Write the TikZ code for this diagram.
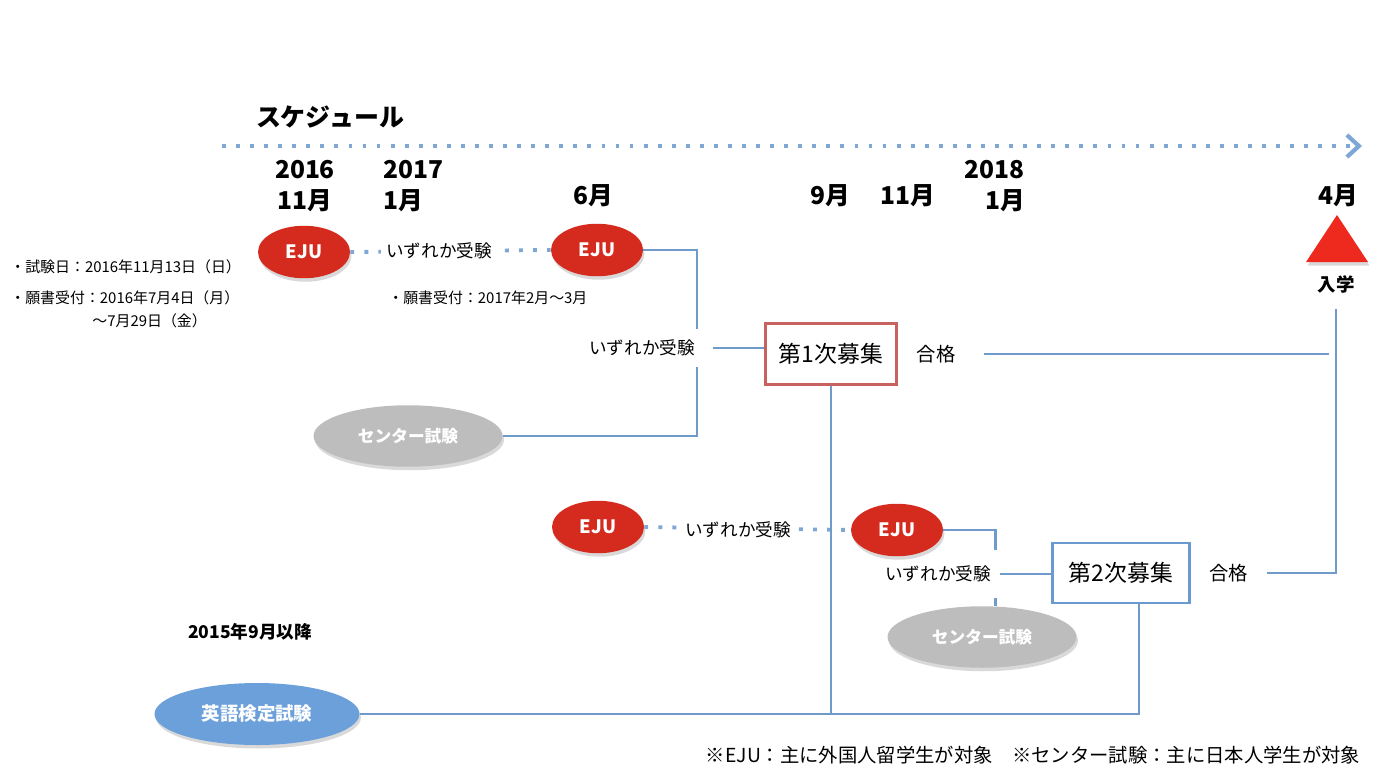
\documentclass[tikz,border=0pt]{standalone}
\usepackage{fontspec}
\setmainfont{Noto Sans CJK JP}
\usetikzlibrary{arrows.meta,positioning,shapes.geometric,shadows}
\definecolor{link}{HTML}{6F9BCB}
\definecolor{dots}{HTML}{7FA7D6}
\definecolor{ejured}{HTML}{D52B1E}
\definecolor{exgray}{HTML}{BDBDBD}
\definecolor{eikenblue}{HTML}{6CA0DA}
\definecolor{boxred}{HTML}{C8625F}
\definecolor{boxblue}{HTML}{6A9BD0}
\definecolor{trired}{HTML}{EE2A1E}

\begin{document}
\begin{tikzpicture}[x=0.02cm,y=-0.02cm,
  shade3d/.style={drop shadow={opacity=.3,shadow xshift=.3mm,shadow yshift=-.7mm}},
  eju/.style={ellipse,fill=ejured,text=white,font=\bfseries\fontsize{10.5}{12}\selectfont,minimum width=1.84cm,minimum height=1.05cm,inner sep=0pt,shade3d},
  sexam/.style={ellipse,fill=exgray,text=white,font=\bfseries\fontsize{9.5}{11}\selectfont,minimum width=3.78cm,minimum height=1.23cm,inner sep=0pt,shade3d},
  datelbl/.style={font=\bfseries\fontsize{14}{17.5}\selectfont,inner sep=0pt},
  note/.style={font=\fontsize{8.5}{10}\selectfont,inner sep=0pt},
  either/.style={font=\fontsize{10}{12}\selectfont,fill=white},
  link/.style={draw=link,line width=1.1pt},
  dotline/.style={draw=dots,line width=2.2pt,dash pattern=on 2.2pt off 5.8pt}]
  \useasboundingbox (0,0) rectangle (1385,771);

  % timeline
  \node[font=\bfseries\fontsize{14.2}{16}\selectfont] (title) at (330,117) {スケジュール};
  \coordinate (tstart) at (222,146);
  \coordinate (tend) at (1362,146);
  \draw[dotline,-{Straight Barb[length=2.4mm,width=4.4mm,line width=2.4pt]}] (tstart) -- (tend);

  \node[datelbl,align=center] (d1611) at (305,186) {2016\\11月};
  \node[datelbl,align=left,anchor=west] (d1701) at (383,186) {2017\\1月};
  \node[datelbl] (d06) at (593,196) {6月};
  \node[datelbl] (d09) at (830,196) {9月};
  \node[datelbl] (d11) at (908,196) {11月};
  \node[datelbl,align=right,anchor=east] (d1801) at (1025,186) {2018\\1月};
  \node[datelbl] (d04) at (1338,196) {4月};

  % first round
  \node[eju] (ejuA) at (304,252) {EJU};
  \node[eju] (ejuB) at (597,250) {EJU};
  \draw[dotline] (ejuA.east) -- (ejuB.west);
  \node[either,inner sep=3pt] (eitherA) at (439,251) {いずれか受験};
  \node[note,anchor=west] (examA) at (10,267) {・試験日：2016年11月13日（日）};
  \node[note,anchor=west] (applyA) at (10,298) {・願書受付：2016年7月4日（月）};
  \node[note,anchor=west] (applyA2) at (92,321) {～7月29日（金）};
  \node[note,anchor=west] (applyB) at (388,298) {・願書受付：2017年2月～3月};
  \node[sexam] (centerA) at (408,436) {センター試験};
  \draw[link] (ejuB.east) -- ++(54,0) coordinate (kinkA) |- (centerA.east);
  \node[either,inner xsep=10pt,inner ysep=6pt] (eitherB) at (642,348) {いずれか受験};
  \node[draw=boxred,line width=1.7pt,fill=white,font=\fontsize{13}{15}\selectfont,minimum width=2.62cm,minimum height=1.22cm] (boxA) at (831,354) {第1次募集};
  \draw[link] (eitherB.east) -- (eitherB.east -| boxA.west);
  \node[font=\fontsize{11}{13}\selectfont,right=0.25cm of boxA] (passA) {合格};

  % entrance
  \fill[trired,shade3d] (1306,262) -- (1337,215) -- (1368,262) -- cycle;
  \node[font=\bfseries\fontsize{10.5}{12}\selectfont] (nyugaku) at (1336,284) {入学};
  \draw[link] ([xshift=4.5mm]passA.east) -- ([xshift=-1.5mm]passA.east -| nyugaku.south);

  % second round
  \node[eju] (ejuC) at (598,527) {EJU};
  \node[eju] (ejuD) at (897,530) {EJU};
  \draw[dotline] (ejuC.east) -- (ejuD.west);
  \node[either,inner sep=2pt] (eitherC) at (738,530) {いずれか受験};
  \node[sexam] (centerB) at (982,637) {センター試験};
  \node[font=\fontsize{10}{12}\selectfont,inner xsep=5pt,inner ysep=9pt] (eitherD) at (938,574) {いずれか受験};
  \draw[link,line width=1.6pt] (ejuD.east) -- ++(52,0) coordinate (kinkB) -- (kinkB |- eitherD.north);
  \draw[link,line width=1.6pt] (kinkB |- eitherD.south) -- (kinkB |- centerB.north);
  \node[draw=boxblue,line width=1.6pt,fill=white,font=\fontsize{13}{15}\selectfont,minimum width=2.74cm,minimum height=1.2cm] (boxB) at (1121,573) {第2次募集};
  \draw[link,line width=1.6pt] (eitherD.east) -- (eitherD.east -| boxB.west);
  \node[font=\fontsize{11}{13}\selectfont,right=0.25cm of boxB] (passB) {合格};
  \draw[link] ([xshift=2.5mm]passB.east) -| ([yshift=-2mm]nyugaku.south);

  % english test
  \node[font=\bfseries\fontsize{10}{12}\selectfont] (since) at (250,632) {2015年9月以降};
  \node[ellipse,fill=eikenblue,text=white,font=\bfseries\fontsize{10.5}{12}\selectfont,minimum width=4.1cm,minimum height=1.24cm,inner sep=0pt,shade3d] (eiken) at (257,714) {英語検定試験};
  \draw[link] (boxA.south) -- (boxA.south |- eiken.east);
  \draw[link] (eiken.east) -| ([xshift=3.6mm]boxB.south);

  \node[font=\fontsize{11}{13}\selectfont] (foot) at (1033,755) {※EJU：主に外国人留学生が対象　※センター試験：主に日本人学生が対象};
\end{tikzpicture}
\end{document}
